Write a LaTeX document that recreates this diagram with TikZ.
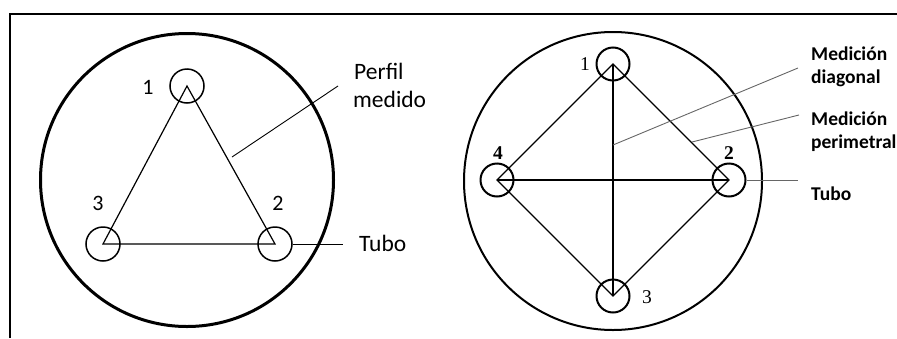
\documentclass[tikz,border=0pt]{standalone}
\usepackage{fontspec}
\setmainfont{Carlito}
\newfontfamily\numfont{Liberation Serif}
\usetikzlibrary{positioning}

\begin{document}
\begin{tikzpicture}[
        x=1pt, y=-1pt,
        every node/.style={inner sep=0pt},
        frame/.style={draw, line width=2.6pt},
        pipe/.style={circle, draw, line width=3pt, minimum size=293pt},
        piperight/.style={circle, draw, line width=2pt, minimum size=298pt},
        tube/.style={circle, draw, line width=1.5pt, minimum size=34pt},
        tuberight/.style={circle, draw, line width=2pt, minimum size=33pt},
        edge/.style={draw, line width=1.2pt},
        diag/.style={draw, line width=1.7pt},
        lead/.style={draw, line width=0.9pt},
        leadgray/.style={draw, line width=0.9pt, black!60},
        num/.style={font=\fontsize{22}{26}\selectfont},
        numright/.style={font=\numfont\fontsize{19.5}{23}\selectfont},
        label/.style={anchor=base west, font=\fontsize{23.5}{28}\selectfont},
        labelbold/.style={anchor=base west, font=\bfseries\fontsize{19.5}{23}\selectfont},
    ]
    \useasboundingbox (0,0) rectangle (897,338);

    % Frame
    \coordinate (fA) at (10,338);
    \coordinate (fB) at (10,14);
    \coordinate (fC) at (897,14);
    \draw[frame] (fA) -- (fB) -- (fC);

    % === LEFT: three tubes ===
    \node[pipe] (P1) at (187,180) {};
    \node[tube] (T1) at (187,86) {};
    \node[tube] (T2) at (275,244) {};
    \node[tube] (T3) at (103,244) {};
    \draw[edge] (T1.center) -- (T2.center) -- (T3.center) -- cycle;

    \node[num] (n1) at (148,87) {1};
    \node[num] (n2) at (278,203) {2};
    \node[num] (n3) at (98,203) {3};

    % Labels
    \node[label] (perfil) at (354,79) {Perfil};
    \node[label] (medido) at (353,107) {medido};
    \node[label] (tubo) at (359,251) {Tubo};

    \coordinate (pA) at (232,157);
    \coordinate (pB) at (338,86);
    \draw[lead] (pA) -- (pB);
    \coordinate (tA) at (343,244);
    \draw[lead] (T2.east) -- (tA);

    % === RIGHT: four tubes ===
    \node[piperight] (P2) at (613,181) {};
    \node[tuberight] (R1) at (613,64) {};
    \node[tuberight] (R2) at (729,180) {};
    \node[tuberight] (R3) at (613,296) {};
    \node[tuberight] (R4) at (497,180) {};
    \draw[edge] (R1.center) -- (R2.center) -- (R3.center) -- (R4.center) -- cycle;
    \draw[diag] (R1.center) -- (R3.center);
    \draw[diag] (R4.center) -- (R2.center);

    \node[numright] (m1) at (585,64) {1};
    \node[numright, font=\numfont\bfseries\fontsize{19.5}{23}\selectfont] (m2) at (729,153) {2};
    \node[numright] (m3) at (647,297) {3};
    \node[numright, font=\numfont\bfseries\fontsize{19.5}{23}\selectfont] (m4) at (498,153) {4};

    % Labels
    \node[labelbold] (diagA) at (811,60) {Medición};
    \node[labelbold] (diagB) at (811,83) {diagonal};
    \node[labelbold] (periA) at (811,125) {Medición};
    \node[labelbold] (periB) at (811,148) {perimetral};
    \node[labelbold] (tuboR) at (811,200) {Tubo};

    \coordinate (dA) at (613,145);
    \coordinate (dB) at (798,68);
    \draw[leadgray] (dA) -- (dB);
    \coordinate (eA) at (692,142);
    \coordinate (eB) at (799,115);
    \draw[leadgray] (eA) -- (eB);
    \coordinate (uB) at (798,180);
    \draw[leadgray] (R2.east) -- (uB);

\end{tikzpicture}
\end{document}
